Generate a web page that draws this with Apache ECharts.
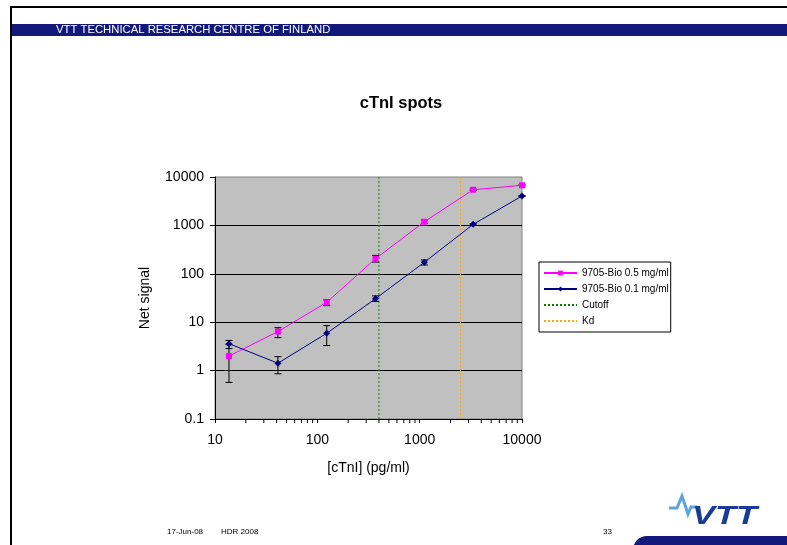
<!DOCTYPE html>
<html><head><meta charset="utf-8">
<script src="https://cdn.jsdelivr.net/npm/echarts@6/dist/echarts.min.js"></script>
<style>html,body{margin:0;padding:0;background:#fff}#c{width:787px;height:545px}</style>
</head><body><div id="c"></div>
<script>
// ---- data ----
var concentrations = [13.7, 41.2, 123.5, 370.4, 1111, 3333, 10000];
var seriesHighName = '9705-Bio 0.5 mg/ml';
var seriesLowName = '9705-Bio 0.1 mg/ml';
var highSignal = [2.0, 6.4, 25.7, 205, 1190, 5450, 6750];
var highErrUp = [3.43, 7.7, 29, 240, 1290, 5650, 6950];
var highErrDown = [0.57, 4.8, 22, 175, 1100, 5300, 6600];
var lowSignal = [3.6, 1.42, 5.9, 30.6, 173, 1050, 4050];
var lowErrUp = [4.2, 1.94, 8.5, 35, 193, 1090, 4150];
var lowErrDown = [2.85, 0.86, 3.3, 27, 152, 1010, 3950];
var cutoffX = 400;
var kdX = 2500;
var xTicks = [10, 100, 1000, 10000];
var yTicks = [0.1, 1, 10, 100, 1000, 10000];
var minorXTicks = [20,30,40,50,60,70,80,90,200,300,400,500,600,700,800,900,2000,3000,4000,5000,6000,7000,8000,9000];

var F = '"Liberation Sans", Arial, sans-serif';
var chart = echarts.init(document.getElementById('c'), null, {renderer: 'canvas'});

function errData(xs, lo, hi) {
  return xs.map(function (x, i) { return [x, lo[i], hi[i]]; });
}
function errRender(params, api) {
  var x = api.value(0);
  var lo = api.coord([x, api.value(1)]);
  var hi = api.coord([x, api.value(2)]);
  var w = 3.5;
  var st = {stroke: '#000', lineWidth: 1};
  return {type: 'group', children: [
    {type: 'line', shape: {x1: lo[0], y1: lo[1], x2: hi[0], y2: hi[1]}, style: st},
    {type: 'line', shape: {x1: lo[0]-w, y1: lo[1], x2: lo[0]+w, y2: lo[1]}, style: st},
    {type: 'line', shape: {x1: hi[0]-w, y1: hi[1], x2: hi[0]+w, y2: hi[1]}, style: st}
  ]};
}

var option = {
  animation: false,
  backgroundColor: '#fff',
  title: {
    text: 'cTnI spots', left: 396, top: 90, textAlign: 'center',
    textStyle: {fontFamily: F, fontSize: 16.5, fontWeight: 'bold', color: '#000'}
  },
  grid: {
    left: 215, top: 177, width: 307, height: 242,
    show: true, backgroundColor: '#C0C0C0', borderColor: '#808080', borderWidth: 1
  },
  legend: {
    data: [
      {name: seriesHighName},
      {name: seriesLowName},
      {name: 'Cutoff', itemStyle: {opacity: 0}},
      {name: 'Kd', itemStyle: {opacity: 0}}
    ],
    orient: 'vertical', left: 539, top: 262,
    padding: [6, 2, 6, 4], itemGap: 6, itemWidth: 33, itemHeight: 6,
    borderColor: '#000', borderWidth: 1, backgroundColor: '#fff',
    textStyle: {fontFamily: F, fontSize: 10, color: '#000'},
    selectedMode: false
  },
  xAxis: {
    type: 'log', logBase: 10, min: 10, max: 10000,
    name: '[cTnI] (pg/ml)', nameLocation: 'middle', nameGap: 42,
    nameTextStyle: {fontFamily: F, fontSize: 14, color: '#000'},
    axisLine: {show: true, onZero: false, lineStyle: {color: '#000', width: 1}},
    axisTick: {show: true, length: 4, lineStyle: {color: '#000'}},
    axisLabel: {fontFamily: F, fontSize: 14, color: '#000', margin: 14,
      formatter: function (v) { return String(Math.round(v)); }},
    splitLine: {show: false}
  },
  yAxis: {
    type: 'log', logBase: 10, min: 0.1, max: 10000,
    name: 'Net signal', nameLocation: 'middle', nameGap: 63, nameRotate: 90,
    nameTextStyle: {fontFamily: F, fontSize: 14, color: '#000'},
    axisLine: {show: true, onZero: false, lineStyle: {color: '#000', width: 1}},
    axisTick: {show: true, length: 5, lineStyle: {color: '#000'}},
    axisLabel: {fontFamily: F, fontSize: 14, color: '#000', margin: 11,
      formatter: function (v) { return v < 1 ? String(Math.round(v * 10) / 10) : String(Math.round(v)); }},
    splitLine: {show: true, showMinLine: false, showMaxLine: false, lineStyle: {color: '#000', width: 1}}
  },
  series: [
    {
      name: 'Cutoff', type: 'line', data: [[cutoffX, yTicks[0]], [cutoffX, yTicks[yTicks.length - 1]]],
      symbol: 'none', lineStyle: {color: '#008000', width: 1, type: [2, 2]}, itemStyle: {color: '#008000'}, z: 2
    },
    {
      name: 'Kd', type: 'line', data: [[kdX, yTicks[0]], [kdX, yTicks[yTicks.length - 1]]],
      symbol: 'none', lineStyle: {color: '#FFA500', width: 1, type: [2, 2]}, itemStyle: {color: '#FFA500'}, z: 2
    },
    {
      type: 'custom', renderItem: errRender, data: errData(concentrations, highErrDown, highErrUp),
      z: 3, silent: true
    },
    {
      type: 'custom', renderItem: errRender, data: errData(concentrations, lowErrDown, lowErrUp),
      z: 3, silent: true
    },
    {
      name: seriesHighName, type: 'line',
      data: concentrations.map(function (x, i) { return [x, highSignal[i]]; }),
      symbol: 'rect', symbolSize: 6, showAllSymbol: true,
      lineStyle: {color: '#FF00FF', width: 1}, itemStyle: {color: '#FF00FF'}, z: 4
    },
    {
      name: seriesLowName, type: 'line',
      data: concentrations.map(function (x, i) { return [x, lowSignal[i]]; }),
      symbol: 'diamond', symbolSize: 7, showAllSymbol: true,
      lineStyle: {color: '#000080', width: 1}, itemStyle: {color: '#000080'}, z: 4
    },
    {
      type: 'custom', silent: true, clip: false, z: 5,
      data: minorXTicks.map(function (v) { return [v, yTicks[0]]; }),
      renderItem: function (params, api) {
        var p = api.coord([api.value(0), api.value(1)]);
        return {type: 'line', shape: {x1: p[0], y1: p[1], x2: p[0], y2: p[1] + 4}, style: {stroke: '#000', lineWidth: 1}};
      }
    }
  ],
  graphic: [
    {type: 'line', shape: {x1: 10, y1: 7, x2: 787, y2: 7}, style: {stroke: '#000', lineWidth: 2}},
    {type: 'line', shape: {x1: 11, y1: 6, x2: 11, y2: 545}, style: {stroke: '#000', lineWidth: 2}},
    {type: 'rect', shape: {x: 12, y: 24, width: 775, height: 12}, style: {fill: '#13197A'}},
    {type: 'text', x: 56, y: 30, style: {text: 'VTT TECHNICAL RESEARCH CENTRE OF FINLAND', fill: '#fff', font: '11.3px ' + F, textVerticalAlign: 'middle'}},
    {type: 'text', x: 167, y: 532, style: {text: '17-Jun-08', fill: '#000', font: '8px ' + F, textVerticalAlign: 'middle'}},
    {type: 'text', x: 221, y: 532, style: {text: 'HDR 2008', fill: '#000', font: '8px ' + F, textVerticalAlign: 'middle'}},
    {type: 'text', x: 603, y: 532, style: {text: '33', fill: '#000', font: '8px ' + F, textVerticalAlign: 'middle'}},
    {type: 'rect', shape: {x: 633, y: 536, width: 170, height: 30, r: [14, 0, 0, 0]}, style: {fill: '#13197A'}},
    {type: 'polyline', shape: {points: [[669, 508], [677, 508], [682, 496], [688, 514], [691, 507], [697, 507]]}, style: {stroke: '#5BA3DC', lineWidth: 3, fill: null}},
    {type: 'text', x: 692, y: 517, scaleX: 1.38, scaleY: 1, style: {text: 'VTT', fill: '#1A3C96', font: 'italic 900 25px ' + F, textVerticalAlign: 'middle'}}
  ]
};
chart.setOption(option);
</script>
</body></html>
